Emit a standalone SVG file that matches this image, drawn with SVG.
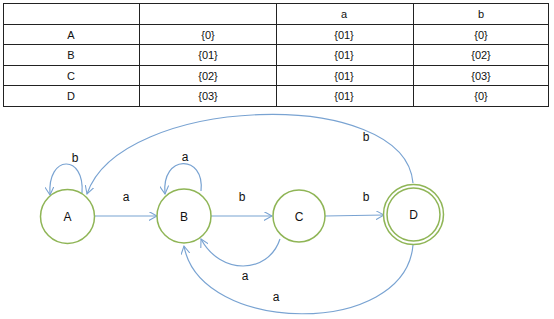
<svg xmlns="http://www.w3.org/2000/svg" width="554" height="319" viewBox="0 0 554 319">
<style>
.t{font-family:"Liberation Sans",Arial,sans-serif;font-size:11px;fill:#111;text-anchor:middle}
.l{font-family:"Liberation Sans",Arial,sans-serif;font-size:12px;fill:#111;text-anchor:middle}
.grid{stroke:#222;stroke-width:1;fill:none}
.st{fill:#fff;stroke:#8fb556;stroke-width:1.5}
.e{fill:none;stroke:#79a3d2;stroke-width:1.2;marker-end:url(#arr)}
</style>
<defs>
<marker id="arr" viewBox="0 0 10 10" refX="9" refY="5" markerWidth="9" markerHeight="9" orient="auto" markerUnits="userSpaceOnUse">
<path d="M0,0 L9,5 L0,10" fill="none" stroke="#79a3d2" stroke-width="1.2"/>
</marker>
</defs>
<rect width="554" height="319" fill="#fff"/>
<g id="table">
<rect class="grid" x="3.5" y="3.5" width="545" height="103"/>
<path class="grid" d="M139.5,3.5V106.5M276.5,3.5V106.5M413.5,3.5V106.5M3.5,24.5H548.5M3.5,44.5H548.5M3.5,65.5H548.5M3.5,85.5H548.5"/>
<text class="t" x="344" y="18">a</text>
<text class="t" x="481" y="18">b</text>
<text class="t" x="71" y="39">A</text><text class="t" x="208" y="39">{0}</text><text class="t" x="344" y="39">{01}</text><text class="t" x="481" y="39">{0}</text>
<text class="t" x="71" y="59">B</text><text class="t" x="208" y="59">{01}</text><text class="t" x="344" y="59">{01}</text><text class="t" x="481" y="59">{02}</text>
<text class="t" x="71" y="80">C</text><text class="t" x="208" y="80">{02}</text><text class="t" x="344" y="80">{01}</text><text class="t" x="481" y="80">{03}</text>
<text class="t" x="71" y="100">D</text><text class="t" x="208" y="100">{03}</text><text class="t" x="344" y="100">{01}</text><text class="t" x="481" y="100">{0}</text>
</g>
<g id="connectors">
<path class="e" d="M94,216 L157,216"/>
<path class="e" d="M211,216 L272,216"/>
<path class="e" d="M325,216 L384,215"/>
<path class="e" d="M82,193 C85,154 47,154 50,195"/>
<path class="e" d="M201,191 C205,154 161,154 165,194"/>
<path class="e" d="M413,183 C405,85 120,95 87,194"/>
<path class="e" d="M280,239 C268,275 220,275 201,239"/>
<path class="e" d="M413,245 C405,338 200,335 184,246"/>
<text class="l" x="126" y="201">a</text>
<text class="l" x="242" y="201">b</text>
<text class="l" x="366" y="201">b</text>
<text class="l" x="75" y="162">b</text>
<text class="l" x="185" y="161">a</text>
<text class="l" x="366" y="141">b</text>
<text class="l" x="245" y="280">a</text>
<text class="l" x="276" y="301">a</text>
</g>
<g id="A"><circle class="st" cx="67.5" cy="216.5" r="27"/><text class="l" x="67.5" y="221">A</text></g>
<g id="B"><circle class="st" cx="184" cy="216" r="27"/><text class="l" x="184" y="221">B</text></g>
<g id="C"><circle class="st" cx="299" cy="216" r="26"/><text class="l" x="299" y="221">C</text></g>
<g id="D"><circle class="st" cx="413.5" cy="214.5" r="30"/><circle class="st" cx="413.5" cy="214.5" r="26.5"/><text class="l" x="413.5" y="219">D</text></g>
</svg>
